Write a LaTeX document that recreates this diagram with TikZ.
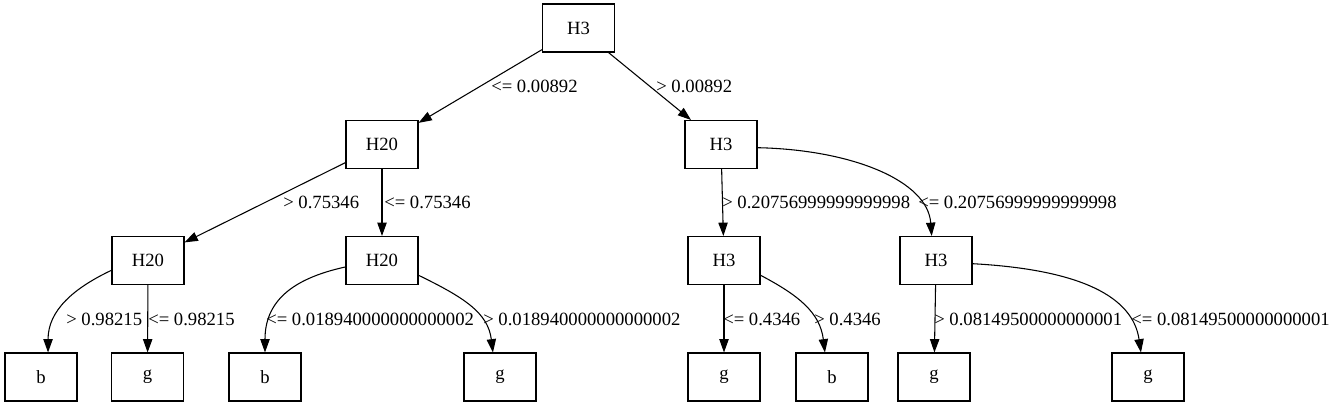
\documentclass[tikz,border=0pt]{standalone}
\usepackage{fontspec}
\setmainfont{Liberation Serif}
\usetikzlibrary{arrows.meta}
\begin{document}
\begin{tikzpicture}[x=0.75pt,y=-0.75pt,
  box/.style={draw, line width=0.8pt, minimum width=54pt, minimum height=36pt, inner sep=0pt, font=\fontsize{14}{16}\selectfont},
  lbl/.style={anchor=west, inner sep=0pt, font=\fontsize{14}{16}\selectfont},
  edge/.style={-{Triangle[length=10pt,width=7pt]}, line width=0.8pt}]
\useasboundingbox (0,0) rectangle (1332,407);
% nodes
\node[box] (r) at (578.5,28) {H3};
\node[box] (h20a) at (382,144.5) {H20};
\node[box] (h3a) at (721,144.5) {H3};
\node[box] (h20b) at (148,260.5) {H20};
\node[box] (h20c) at (382,260.5) {H20};
\node[box] (h3b) at (724,260.5) {H3};
\node[box] (h3c) at (936,260.5) {H3};
\node[box] (b1) at (41,377) {b};
\node[box] (g1) at (147.5,377) {g};
\node[box] (b2) at (265,377) {b};
\node[box] (g2) at (500,377) {g};
\node[box] (g3) at (724,377) {g};
\node[box] (b3) at (832,377) {b};
\node[box] (g4) at (934,377) {g};
\node[box] (g5) at (1148,377) {g};
% edges
\draw[edge] (r) -- (h20a);
\draw[edge] (r) -- (h3a);
\draw[edge] (h20a) -- (h20b);
\draw[edge] (h20a) -- (h20c);
\draw[edge] (h3a) -- (h3b);
\draw[edge] (h3a.-5) .. controls +(95,2) and +(-4,-55) .. (h3c.100);
\draw[edge] (h20b.195) .. controls +(-38,18) and +(0,-42) .. (b1.74);
\draw[edge] (h20b) -- (g1);
\draw[edge] (h20c.190) .. controls +(-55,12) and +(0,-50) .. (b2.north);
\draw[edge] (h20c.-22) .. controls +(45,22) and +(-5,-40) .. (g2.106);
\draw[edge] (h3b) -- (g3);
\draw[edge] (h3b.-22) .. controls +(38,20) and +(-5,-40) .. (b3.106);
\draw[edge] (h3c) -- (g4);
\draw[edge] (h3c.-5) .. controls +(110,6) and +(-8,-55) .. (g5.106);
% labels
\node[lbl] (l1) at (491,86) {<= 0.00892};
\node[lbl] (l2) at (656,86) {> 0.00892};
\node[lbl] (l3) at (283,202) {> 0.75346};
\node[lbl] (l4) at (384,202) {<= 0.75346};
\node[lbl] (l5) at (722,202) {> 0.20756999999999998};
\node[lbl] (l6) at (918,202) {<= 0.20756999999999998};
\node[lbl] (l7) at (66,319) {> 0.98215};
\node[lbl] (l8) at (148,319) {<= 0.98215};
\node[lbl] (l9) at (266,319) {<= 0.018940000000000002};
\node[lbl] (l10) at (483,319) {> 0.018940000000000002};
\node[lbl] (l11) at (723,319) {<= 0.4346};
\node[lbl] (l12) at (814,319) {> 0.4346};
\node[lbl] (l13) at (934,319) {> 0.08149500000000001};
\node[lbl] (l14) at (1131,319) {<= 0.08149500000000001};
\end{tikzpicture}
\end{document}
